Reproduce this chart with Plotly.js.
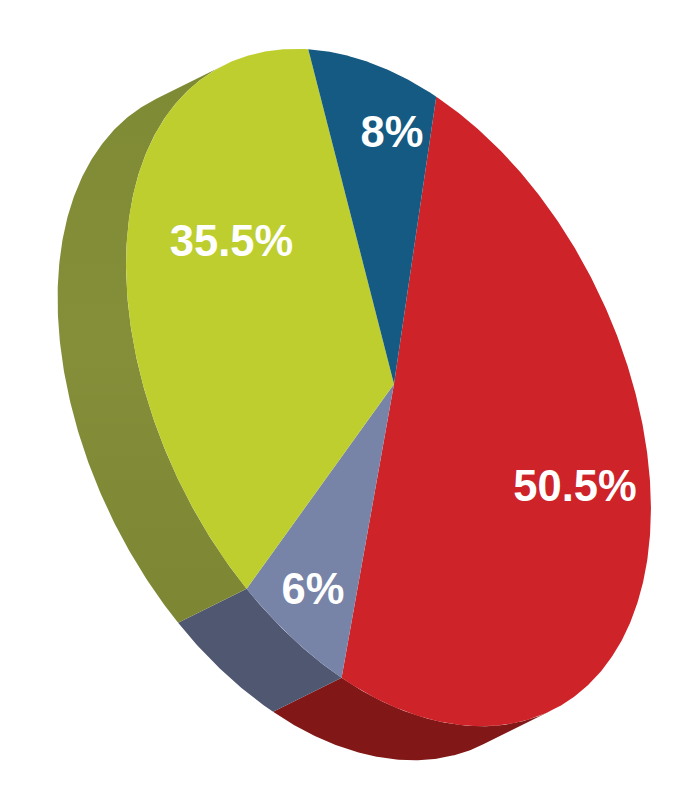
<!DOCTYPE html>
<html>
<head>
<meta charset="utf-8">
<script src="https://cdn.plot.ly/plotly-3.0.1.min.js"></script>
<style>html,body{margin:0;padding:0;background:#fff}#c{width:695px;height:800px}</style>
</head>
<body>
<div id="c"></div>
<script>
const sliceNames = ["Red","Lavender","Olive","Blue"];
const sliceValues = [50.5, 6, 35.5, 8];
const topColors = ["#ce2329","#7783a7","#bdce2e","#155a82"];
const sideColors = ["#811716","#4f5771","#828c37",null];
const labelX = [575, 313, 231.5, 392];
const labelY = [490, 593, 245, 136];

// Tilted disc: affine frame around the apex, with a slightly non-elliptic rim
const apexX=394, apexY=384, W=262, K=126, L=315.8, ox=-68.5, oy=34, startT=-80.6;
const rimShape=[1.00287,-0.02000,0.01781,-0.00134,-0.00974,-0.00078,-0.00036,-0.00016,0.00147];
const rim=(deg)=>{
  const t=deg*Math.PI/180;
  let r=rimShape[0];
  for(let k=1;k<=4;k++) r+=rimShape[2*k-1]*Math.cos(k*t)+rimShape[2*k]*Math.sin(k*t);
  const ux=r*Math.cos(t), uy=r*Math.sin(t);
  return [apexX+W*ux, apexY+K*ux+L*uy];
};
const arc=(a,b)=>{const n=Math.max(2,Math.ceil(Math.abs(b-a)*2));const p=[];for(let i=0;i<=n;i++)p.push(rim(a+(b-a)*i/n));return p;};

// Silhouette of the extrusion: rim points furthest from the extrusion direction
let tanLow=0, tanHigh=0, best1=-Infinity, best2=Infinity;
for(let d=startT; d<startT+360; d+=0.25){
  const p=rim(d), c=(p[0]-apexX)*oy-(p[1]-apexY)*ox;
  if(c>best1){best1=c;tanLow=d;}
  if(c<best2){best2=c;tanHigh=d;}
}
if(tanHigh<tanLow) tanHigh+=360;

const sideTraces=[], topTraces=[];
let t0=startT;
sliceValues.forEach((v,i)=>{
  const t1=t0+v*3.6;
  const pts=[[apexX,apexY],...arc(t0,t1),[apexX,apexY]];
  topTraces.push({type:'scatter',mode:'lines',name:sliceNames[i],x:pts.map(p=>p[0]),y:pts.map(p=>p[1]),
    fill:'toself',fillcolor:topColors[i],line:{width:0,color:topColors[i]},hoverinfo:'skip',showlegend:false});
  const s0=Math.max(t0,tanLow), s1=Math.min(t1,tanHigh);
  if(sideColors[i] && s1>s0){
    const f=arc(s0,s1);
    const b=f.slice().reverse().map(p=>[p[0]+ox,p[1]+oy]);
    const q=[...f,...b,f[0]];
    const tr={type:'scatter',mode:'lines',name:sliceNames[i]+' side',x:q.map(p=>p[0]),y:q.map(p=>p[1]),
      fill:'toself',fillcolor:sideColors[i],line:{width:0,color:sideColors[i]},hoverinfo:'skip',showlegend:false};
    if(sliceNames[i]==='Olive'){
      tr.fillgradient={type:'vertical',colorscale:[[0,'#7c8633'],[0.5,'#858f3a'],[1,'#7f8a35']]};
    }
    sideTraces.push(tr);
  }
  t0=t1;
});
const labelTrace={type:'scatter',mode:'text',x:labelX,y:labelY,text:sliceValues.map(v=>v+'%'),textposition:'middle center',
  textfont:{family:'Liberation Sans, Arial, sans-serif',size:43.5,color:'#ffffff',weight:700},hoverinfo:'skip',showlegend:false};

Plotly.newPlot('c',[...sideTraces,...topTraces,labelTrace],{
  width:695,height:800,margin:{l:0,r:0,t:0,b:0},paper_bgcolor:'#fff',plot_bgcolor:'#fff',showlegend:false,
  xaxis:{range:[0,695],visible:false,fixedrange:true},
  yaxis:{range:[800,0],visible:false,fixedrange:true}
},{displayModeBar:false,staticPlot:true});
</script>
</body>
</html>
